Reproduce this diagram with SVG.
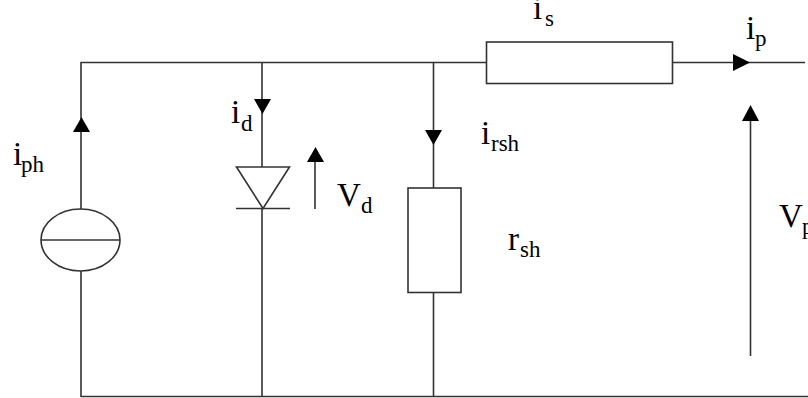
<svg xmlns="http://www.w3.org/2000/svg" width="808" height="398" viewBox="0 0 808 398">
<style>
.w{fill:none;stroke:#333;stroke-width:1.6}
.b{fill:#fff;stroke:#333;stroke-width:1.6}
.a{fill:#000;stroke:none}
text{font-family:"Liberation Serif","Times New Roman",serif;font-size:33px;fill:#000}
.s{font-size:23px}
</style>
<rect width="808" height="398" fill="#fff"/>
<g id="connectors">
<path class="w" d="M486 62.500H81V209M81 271V396.500H808M673 62.500H805M262 62.500V167M262 208.500V396.500M433.500 62.500V188M433.500 292.500V396.500M315 160V209M750.500 118V356"/>
<polygon class="a" points="733,54 733,71 750,62.500"/>
<polygon class="a" points="73,132 90,132 81.500,117"/>
<polygon class="a" points="254,99 271,99 262.500,114"/>
<polygon class="a" points="425,130 442,130 433.500,145"/>
<polygon class="a" points="307,162 324,162 315.500,147"/>
<polygon class="a" points="742,121 759,121 750.500,105"/>
</g>
<g id="source"><ellipse class="b" cx="80.500" cy="240" rx="39.500" ry="31"/><path class="w" d="M41 240H120"/></g>
<g id="diode"><polygon class="b" points="236.500,167 289.500,167 263,208.500"/><path class="w" d="M236 208.500H290"/></g>
<g id="rs"><rect class="b" x="486.500" y="42" width="186" height="41.500"/></g>
<g id="rsh"><rect class="b" x="408" y="188" width="53" height="104.500"/></g>
<g id="labels">
<text x="533" y="19">i<tspan class="s" x="545" y="26">s</tspan></text>
<text x="746" y="39">i<tspan class="s" x="755" y="46">p</tspan></text>
<text x="13" y="165">i<tspan class="s" x="21" y="172">ph</tspan></text>
<text x="231" y="123">i<tspan class="s" x="241" y="131">d</tspan></text>
<text x="337" y="206">V<tspan class="s" x="361" y="213">d</tspan></text>
<text x="481" y="144">i<tspan class="s" x="491" y="151">rsh</tspan></text>
<text x="508" y="250">r<tspan class="s" x="520" y="257">sh</tspan></text>
<text x="779" y="227">V<tspan class="s" x="802" y="234">p</tspan></text>
</g>
</svg>
